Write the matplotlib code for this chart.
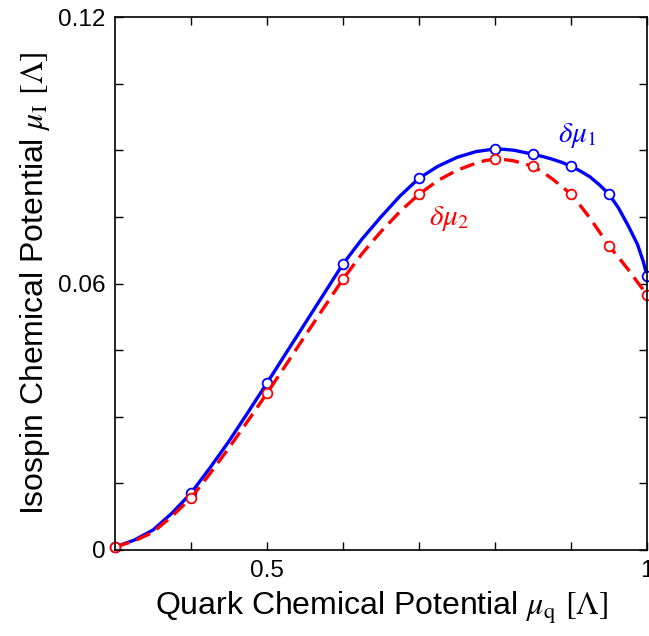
import numpy as np
import matplotlib
matplotlib.use("Agg")
import matplotlib.pyplot as plt

plt.rcParams['font.family'] = ['Liberation Sans', 'DejaVu Sans']
plt.rcParams['mathtext.fontset'] = 'stix'

# marker points
mu_pts = [0.3, 0.4, 0.5, 0.6, 0.7, 0.8, 0.85, 0.9, 0.95, 1.0]
dmu1_pts = [0.0007, 0.0128, 0.0376, 0.0644, 0.0837, 0.0903, 0.0891, 0.0864, 0.0801, 0.0617]
dmu2_pts = [0.0007, 0.0117, 0.0353, 0.0610, 0.0801, 0.0880, 0.0864, 0.0801, 0.0684, 0.0574]

# curves, read at a finer step
mu_line = [0.3, 0.325, 0.35, 0.375, 0.4, 0.425, 0.45, 0.475, 0.5, 0.525, 0.55, 0.575,
           0.6, 0.625, 0.65, 0.675, 0.7, 0.725, 0.75, 0.775, 0.7875, 0.8, 0.8125,
           0.825, 0.85, 0.8625, 0.875, 0.8875, 0.9, 0.9125, 0.925, 0.9375, 0.95,
           0.9625, 0.975, 0.9875, 0.995, 1.0]
dmu1_line = [0.0007, 0.0022, 0.0045, 0.0083, 0.0128, 0.0185, 0.0245, 0.0310, 0.0376,
             0.0443, 0.0510, 0.0577, 0.0644, 0.0700, 0.0750, 0.0797, 0.0837, 0.0864,
             0.0884, 0.0897, 0.0900, 0.0903, 0.0902, 0.0900, 0.0891, 0.0886, 0.0880,
             0.0873, 0.0864, 0.0853, 0.0840, 0.0822, 0.0801, 0.0770, 0.0731, 0.0688,
             0.0650, 0.0617]
dmu2_line = [0.0007, 0.0020, 0.0040, 0.0076, 0.0117, 0.0172, 0.0230, 0.0291, 0.0353,
             0.0417, 0.0482, 0.0546, 0.0610, 0.0667, 0.0717, 0.0762, 0.0801, 0.0832,
             0.0855, 0.0871, 0.0877, 0.0880, 0.0879, 0.0876, 0.0864, 0.0851, 0.0836,
             0.0819, 0.0801, 0.0775, 0.0747, 0.0716, 0.0684, 0.0659, 0.0632, 0.0603,
             0.0586, 0.0574]

xticks = [0.4, 0.5, 0.6, 0.7, 0.8, 0.9, 1.0]
xticklabels = ['', '0.5', '', '', '', '', '1']
yticks = [0, 0.015, 0.03, 0.045, 0.06, 0.075, 0.09, 0.105, 0.12]
yticklabels = ['0', '', '', '', '0.06', '', '', '', '0.12']

fig = plt.figure(figsize=(6.49, 6.36), dpi=100)
ax = fig.add_axes([115/649, 1-550/636, 532/649, 533/636])

ax.plot(mu_line, dmu1_line, '-', color='#0000ff', lw=2.4, solid_joinstyle='round')
ax.plot(mu_pts, dmu1_pts, 'o', mfc='white', mec='#0000ff', ms=7, mew=1.3, clip_on=False)
ax.plot(mu_line, dmu2_line, '--', color='#ff0000', lw=2.4, dashes=(4.5, 2.3))
ax.plot(mu_pts, dmu2_pts, 'o', mfc='white', mec='#ff0000', ms=7, mew=1.3, clip_on=False)

ax.text(0.909, 0.0934, r'$\delta\mu_1$', color='#0000ff', fontsize=21, ha='center', va='center')
ax.text(0.740, 0.0747, r'$\delta\mu_2$', color='#ff0000', fontsize=21, ha='center', va='center')

ax.set_xlim(0.3, 1.0)
ax.set_ylim(0, 0.12)
ax.set_xticks(xticks)
ax.set_xticklabels(xticklabels)
ax.set_yticks(yticks)
ax.set_yticklabels(yticklabels)
ax.tick_params(direction='in', top=True, right=True, length=6, width=1, labelsize=17.5, pad=7)
for s in ax.spines.values():
    s.set_linewidth(1.2)

ax.set_xlabel(r'Quark Chemical Potential $\mu_{\mathrm{q}}$ $[\Lambda]$', fontsize=23, labelpad=6)
ax.set_ylabel(r'Isospin Chemical Potential $\mu_{\mathrm{I}}$ $[\Lambda]$', fontsize=23, labelpad=4)

fig.savefig('out.png', dpi=100)
